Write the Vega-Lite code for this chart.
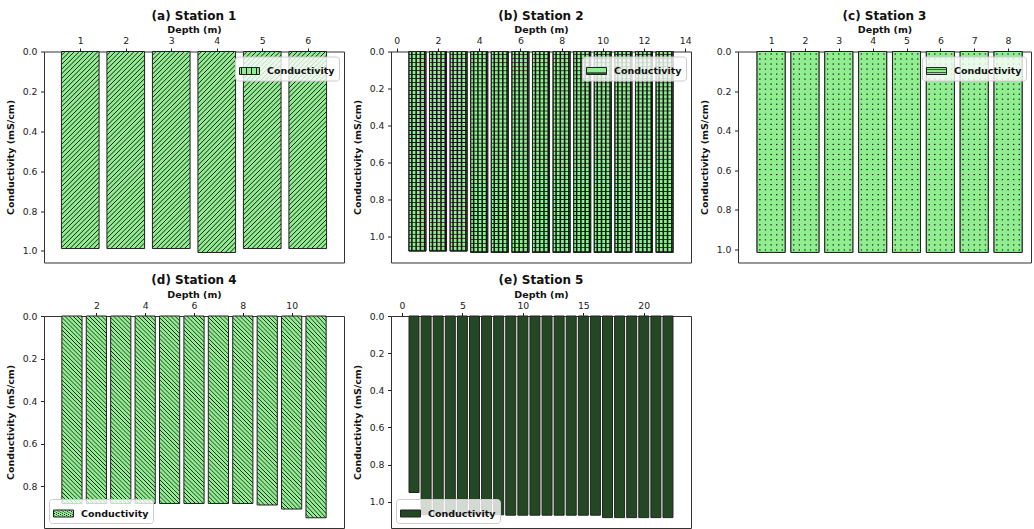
{
"$schema": "https://vega.github.io/schema/vega-lite/v6.json",
"padding": {"left": 4, "top": 8.5, "right": 0, "bottom": 0},
"background": "white",
"datasets": {
"s1": [{"depth":1,"cond":0.988},{"depth":2,"cond":0.988},{"depth":3,"cond":0.988},{"depth":4,"cond":1.008},{"depth":5,"cond":0.988},{"depth":6,"cond":0.988}],
"s2": [{"depth":1,"cond":1.078},{"depth":2,"cond":1.078},{"depth":3,"cond":1.078},{"depth":4,"cond":1.086},{"depth":5,"cond":1.086},{"depth":6,"cond":1.086},{"depth":7,"cond":1.086},{"depth":8,"cond":1.086},{"depth":9,"cond":1.086},{"depth":10,"cond":1.086},{"depth":11,"cond":1.086},{"depth":12,"cond":1.086},{"depth":13,"cond":1.086}],
"s3": [{"depth":1,"cond":1.017},{"depth":2,"cond":1.017},{"depth":3,"cond":1.017},{"depth":4,"cond":1.017},{"depth":5,"cond":1.017},{"depth":6,"cond":1.017},{"depth":7,"cond":1.017},{"depth":8,"cond":1.017}],
"s4": [{"depth":1,"cond":0.88},{"depth":2,"cond":0.88},{"depth":3,"cond":0.88},{"depth":4,"cond":0.88},{"depth":5,"cond":0.88},{"depth":6,"cond":0.88},{"depth":7,"cond":0.88},{"depth":8,"cond":0.88},{"depth":9,"cond":0.887},{"depth":10,"cond":0.906},{"depth":11,"cond":0.947}],
"s5": [{"depth":1,"cond":0.95},{"depth":2,"cond":1.07},{"depth":3,"cond":1.07},{"depth":4,"cond":1.07},{"depth":5,"cond":1.07},{"depth":6,"cond":1.07},{"depth":7,"cond":1.07},{"depth":8,"cond":1.07},{"depth":9,"cond":1.072},{"depth":10,"cond":1.072},{"depth":11,"cond":1.072},{"depth":12,"cond":1.072},{"depth":13,"cond":1.072},{"depth":14,"cond":1.072},{"depth":15,"cond":1.072},{"depth":16,"cond":1.072},{"depth":17,"cond":1.085},{"depth":18,"cond":1.085},{"depth":19,"cond":1.085},{"depth":20,"cond":1.085},{"depth":21,"cond":1.085},{"depth":22,"cond":1.085}]
},
"config": {
"font": "DejaVu Sans",
"view": {"stroke": "#333", "strokeWidth": 1},
"axis": {"grid": false, "domain": false, "tickColor": "#222", "tickSize": 3.5, "labelColor": "#222", "labelFontSize": 9.3, "titleFontSize": 9.5, "titleFontWeight": "bold", "titleColor": "#111"},
"axisX": {"labelPadding": 2.5, "titlePadding": 2, "labelAngle": 0},
"axisY": {"labelPadding": 3.5, "titlePadding": 7},
"title": {"fontSize": 12, "fontWeight": "bold", "color": "#111", "anchor": "middle", "offset": 2},
"legend": {"labelFontSize": 9.5, "labelFontWeight": "bold", "labelColor": "#111", "symbolType": "M-1,-0.35H1V0.35H-1Z", "symbolSize": 400, "symbolStrokeWidth": 1, "strokeColor": "#ccc", "fillColor": "rgba(255,255,255,0.8)", "cornerRadius": 3, "padding": 4, "offset": 5, "labelOffset": 7}
},
"resolve": {"scale": {"stroke": "independent"}, "legend": {"stroke": "independent"}},
"spacing": 9.5,
"vconcat": [
{
"spacing": 47,
"bounds": "flush",
"resolve": {"scale": {"stroke": "independent"}, "legend": {"stroke": "independent"}},
"hconcat": [
{
"title": "(a) Station 1",
"width": 300, "height": 211,
"data": {"name": "s1"},
"mark": {"type": "bar", "width": 37.65, "strokeWidth": 1, "fill": {"gradient": "linear", "x1": 0, "y1": 0, "x2": 0.2195, "y2": 1.149, "stops": [{"offset":0,"color":"#90ee90"},
{"offset":0.012,"color":"#90ee90"},{"offset":0.016,"color":"#111"},{"offset":0.02,"color":"#90ee90"},
{"offset":0.032,"color":"#90ee90"},{"offset":0.036,"color":"#111"},{"offset":0.04,"color":"#90ee90"},
{"offset":0.052,"color":"#90ee90"},{"offset":0.056,"color":"#111"},{"offset":0.06,"color":"#90ee90"},
{"offset":0.072,"color":"#90ee90"},{"offset":0.076,"color":"#111"},{"offset":0.08,"color":"#90ee90"},
{"offset":0.092,"color":"#90ee90"},{"offset":0.096,"color":"#111"},{"offset":0.1,"color":"#90ee90"},
{"offset":0.112,"color":"#90ee90"},{"offset":0.116,"color":"#111"},{"offset":0.12,"color":"#90ee90"},
{"offset":0.132,"color":"#90ee90"},{"offset":0.136,"color":"#111"},{"offset":0.14,"color":"#90ee90"},
{"offset":0.152,"color":"#90ee90"},{"offset":0.156,"color":"#111"},{"offset":0.16,"color":"#90ee90"},
{"offset":0.172,"color":"#90ee90"},{"offset":0.176,"color":"#111"},{"offset":0.18,"color":"#90ee90"},
{"offset":0.192,"color":"#90ee90"},{"offset":0.196,"color":"#111"},{"offset":0.2,"color":"#90ee90"},
{"offset":0.212,"color":"#90ee90"},{"offset":0.216,"color":"#111"},{"offset":0.22,"color":"#90ee90"},
{"offset":0.232,"color":"#90ee90"},{"offset":0.236,"color":"#111"},{"offset":0.24,"color":"#90ee90"},
{"offset":0.252,"color":"#90ee90"},{"offset":0.256,"color":"#111"},{"offset":0.26,"color":"#90ee90"},
{"offset":0.272,"color":"#90ee90"},{"offset":0.276,"color":"#111"},{"offset":0.28,"color":"#90ee90"},
{"offset":0.292,"color":"#90ee90"},{"offset":0.296,"color":"#111"},{"offset":0.3,"color":"#90ee90"},
{"offset":0.312,"color":"#90ee90"},{"offset":0.316,"color":"#111"},{"offset":0.32,"color":"#90ee90"},
{"offset":0.332,"color":"#90ee90"},{"offset":0.336,"color":"#111"},{"offset":0.34,"color":"#90ee90"},
{"offset":0.352,"color":"#90ee90"},{"offset":0.356,"color":"#111"},{"offset":0.36,"color":"#90ee90"},
{"offset":0.372,"color":"#90ee90"},{"offset":0.376,"color":"#111"},{"offset":0.38,"color":"#90ee90"},
{"offset":0.392,"color":"#90ee90"},{"offset":0.396,"color":"#111"},{"offset":0.4,"color":"#90ee90"},
{"offset":0.412,"color":"#90ee90"},{"offset":0.416,"color":"#111"},{"offset":0.42,"color":"#90ee90"},
{"offset":0.432,"color":"#90ee90"},{"offset":0.436,"color":"#111"},{"offset":0.44,"color":"#90ee90"},
{"offset":0.452,"color":"#90ee90"},{"offset":0.456,"color":"#111"},{"offset":0.46,"color":"#90ee90"},
{"offset":0.472,"color":"#90ee90"},{"offset":0.476,"color":"#111"},{"offset":0.48,"color":"#90ee90"},
{"offset":0.492,"color":"#90ee90"},{"offset":0.496,"color":"#111"},{"offset":0.5,"color":"#90ee90"},
{"offset":0.512,"color":"#90ee90"},{"offset":0.516,"color":"#111"},{"offset":0.52,"color":"#90ee90"},
{"offset":0.532,"color":"#90ee90"},{"offset":0.536,"color":"#111"},{"offset":0.54,"color":"#90ee90"},
{"offset":0.552,"color":"#90ee90"},{"offset":0.556,"color":"#111"},{"offset":0.56,"color":"#90ee90"},
{"offset":0.572,"color":"#90ee90"},{"offset":0.576,"color":"#111"},{"offset":0.58,"color":"#90ee90"},
{"offset":0.592,"color":"#90ee90"},{"offset":0.596,"color":"#111"},{"offset":0.6,"color":"#90ee90"},
{"offset":0.612,"color":"#90ee90"},{"offset":0.616,"color":"#111"},{"offset":0.62,"color":"#90ee90"},
{"offset":0.632,"color":"#90ee90"},{"offset":0.636,"color":"#111"},{"offset":0.64,"color":"#90ee90"},
{"offset":0.652,"color":"#90ee90"},{"offset":0.656,"color":"#111"},{"offset":0.66,"color":"#90ee90"},
{"offset":0.672,"color":"#90ee90"},{"offset":0.676,"color":"#111"},{"offset":0.68,"color":"#90ee90"},
{"offset":0.692,"color":"#90ee90"},{"offset":0.696,"color":"#111"},{"offset":0.7,"color":"#90ee90"},
{"offset":0.712,"color":"#90ee90"},{"offset":0.716,"color":"#111"},{"offset":0.72,"color":"#90ee90"},
{"offset":0.732,"color":"#90ee90"},{"offset":0.736,"color":"#111"},{"offset":0.74,"color":"#90ee90"},
{"offset":0.752,"color":"#90ee90"},{"offset":0.756,"color":"#111"},{"offset":0.76,"color":"#90ee90"},
{"offset":0.772,"color":"#90ee90"},{"offset":0.776,"color":"#111"},{"offset":0.78,"color":"#90ee90"},
{"offset":0.792,"color":"#90ee90"},{"offset":0.796,"color":"#111"},{"offset":0.8,"color":"#90ee90"},
{"offset":0.812,"color":"#90ee90"},{"offset":0.816,"color":"#111"},{"offset":0.82,"color":"#90ee90"},
{"offset":0.832,"color":"#90ee90"},{"offset":0.836,"color":"#111"},{"offset":0.84,"color":"#90ee90"},
{"offset":0.852,"color":"#90ee90"},{"offset":0.856,"color":"#111"},{"offset":0.86,"color":"#90ee90"},
{"offset":0.872,"color":"#90ee90"},{"offset":0.876,"color":"#111"},{"offset":0.88,"color":"#90ee90"},
{"offset":0.892,"color":"#90ee90"},{"offset":0.896,"color":"#111"},{"offset":0.9,"color":"#90ee90"},
{"offset":0.912,"color":"#90ee90"},{"offset":0.916,"color":"#111"},{"offset":0.92,"color":"#90ee90"},
{"offset":0.932,"color":"#90ee90"},{"offset":0.936,"color":"#111"},{"offset":0.94,"color":"#90ee90"},
{"offset":0.952,"color":"#90ee90"},{"offset":0.956,"color":"#111"},{"offset":0.96,"color":"#90ee90"},
{"offset":0.972,"color":"#90ee90"},{"offset":0.976,"color":"#111"},{"offset":0.98,"color":"#90ee90"},
{"offset":0.992,"color":"#90ee90"},{"offset":0.996,"color":"#111"},{"offset":1,"color":"#90ee90"}]}},
"encoding": {
"x": {"field": "depth", "type": "quantitative", "scale": {"domain": [0.313, 6.687], "nice": false, "zero": false}, "axis": {"orient": "top", "title": "Depth (m)", "values": [1,2,3,4,5,6], "format": "d"}},
"y": {"field": "cond", "type": "quantitative", "scale": {"domain": [0, 1.058], "reverse": true, "nice": false}, "axis": {"title": "Conductivity (mS/cm)", "values": [0,0.2,0.4,0.6,0.8,1.0], "format": ".1f"}},
"stroke": {"datum": "Conductivity", "type": "nominal", "scale": {"range": ["#222"]}, "legend": {"orient": "top-right", "title": null}}
}
},
{
"title": "(b) Station 2",
"width": 300, "height": 211,
"data": {"name": "s2"},
"encoding": {
"x": {"field": "depth", "type": "quantitative", "scale": {"domain": [-0.04, 14.04], "nice": false, "zero": false}, "axis": {"orient": "top", "title": "Depth (m)", "values": [0,2,4,6,8,10,12,14], "format": "d"}},
"y": {"field": "cond", "type": "quantitative", "scale": {"domain": [0, 1.14], "reverse": true, "nice": false}, "axis": {"title": "Conductivity (mS/cm)", "values": [0,0.2,0.4,0.6,0.8,1.0], "format": ".1f"}},
"stroke": {"datum": "Conductivity", "type": "nominal", "scale": {"range": ["#222"]}, "legend": {"orient": "top-right", "title": null}}
},
"layer": [
{"mark": {"type": "bar", "width": 17.05, "strokeWidth": 1, "fill": {"gradient": "linear", "x1": 0, "y1": 0, "x2": 0, "y2": 1, "stops": [{"offset":0,"color":"#90ee90"},
{"offset":0.012,"color":"#90ee90"},{"offset":0.016,"color":"#111"},{"offset":0.02,"color":"#90ee90"},
{"offset":0.032,"color":"#90ee90"},{"offset":0.036,"color":"#111"},{"offset":0.04,"color":"#90ee90"},
{"offset":0.052,"color":"#90ee90"},{"offset":0.056,"color":"#111"},{"offset":0.06,"color":"#90ee90"},
{"offset":0.072,"color":"#90ee90"},{"offset":0.076,"color":"#111"},{"offset":0.08,"color":"#90ee90"},
{"offset":0.092,"color":"#90ee90"},{"offset":0.096,"color":"#111"},{"offset":0.1,"color":"#90ee90"},
{"offset":0.112,"color":"#90ee90"},{"offset":0.116,"color":"#111"},{"offset":0.12,"color":"#90ee90"},
{"offset":0.132,"color":"#90ee90"},{"offset":0.136,"color":"#111"},{"offset":0.14,"color":"#90ee90"},
{"offset":0.152,"color":"#90ee90"},{"offset":0.156,"color":"#111"},{"offset":0.16,"color":"#90ee90"},
{"offset":0.172,"color":"#90ee90"},{"offset":0.176,"color":"#111"},{"offset":0.18,"color":"#90ee90"},
{"offset":0.192,"color":"#90ee90"},{"offset":0.196,"color":"#111"},{"offset":0.2,"color":"#90ee90"},
{"offset":0.212,"color":"#90ee90"},{"offset":0.216,"color":"#111"},{"offset":0.22,"color":"#90ee90"},
{"offset":0.232,"color":"#90ee90"},{"offset":0.236,"color":"#111"},{"offset":0.24,"color":"#90ee90"},
{"offset":0.252,"color":"#90ee90"},{"offset":0.256,"color":"#111"},{"offset":0.26,"color":"#90ee90"},
{"offset":0.272,"color":"#90ee90"},{"offset":0.276,"color":"#111"},{"offset":0.28,"color":"#90ee90"},
{"offset":0.292,"color":"#90ee90"},{"offset":0.296,"color":"#111"},{"offset":0.3,"color":"#90ee90"},
{"offset":0.312,"color":"#90ee90"},{"offset":0.316,"color":"#111"},{"offset":0.32,"color":"#90ee90"},
{"offset":0.332,"color":"#90ee90"},{"offset":0.336,"color":"#111"},{"offset":0.34,"color":"#90ee90"},
{"offset":0.352,"color":"#90ee90"},{"offset":0.356,"color":"#111"},{"offset":0.36,"color":"#90ee90"},
{"offset":0.372,"color":"#90ee90"},{"offset":0.376,"color":"#111"},{"offset":0.38,"color":"#90ee90"},
{"offset":0.392,"color":"#90ee90"},{"offset":0.396,"color":"#111"},{"offset":0.4,"color":"#90ee90"},
{"offset":0.412,"color":"#90ee90"},{"offset":0.416,"color":"#111"},{"offset":0.42,"color":"#90ee90"},
{"offset":0.432,"color":"#90ee90"},{"offset":0.436,"color":"#111"},{"offset":0.44,"color":"#90ee90"},
{"offset":0.452,"color":"#90ee90"},{"offset":0.456,"color":"#111"},{"offset":0.46,"color":"#90ee90"},
{"offset":0.472,"color":"#90ee90"},{"offset":0.476,"color":"#111"},{"offset":0.48,"color":"#90ee90"},
{"offset":0.492,"color":"#90ee90"},{"offset":0.496,"color":"#111"},{"offset":0.5,"color":"#90ee90"},
{"offset":0.512,"color":"#90ee90"},{"offset":0.516,"color":"#111"},{"offset":0.52,"color":"#90ee90"},
{"offset":0.532,"color":"#90ee90"},{"offset":0.536,"color":"#111"},{"offset":0.54,"color":"#90ee90"},
{"offset":0.552,"color":"#90ee90"},{"offset":0.556,"color":"#111"},{"offset":0.56,"color":"#90ee90"},
{"offset":0.572,"color":"#90ee90"},{"offset":0.576,"color":"#111"},{"offset":0.58,"color":"#90ee90"},
{"offset":0.592,"color":"#90ee90"},{"offset":0.596,"color":"#111"},{"offset":0.6,"color":"#90ee90"},
{"offset":0.612,"color":"#90ee90"},{"offset":0.616,"color":"#111"},{"offset":0.62,"color":"#90ee90"},
{"offset":0.632,"color":"#90ee90"},{"offset":0.636,"color":"#111"},{"offset":0.64,"color":"#90ee90"},
{"offset":0.652,"color":"#90ee90"},{"offset":0.656,"color":"#111"},{"offset":0.66,"color":"#90ee90"},
{"offset":0.672,"color":"#90ee90"},{"offset":0.676,"color":"#111"},{"offset":0.68,"color":"#90ee90"},
{"offset":0.692,"color":"#90ee90"},{"offset":0.696,"color":"#111"},{"offset":0.7,"color":"#90ee90"},
{"offset":0.712,"color":"#90ee90"},{"offset":0.716,"color":"#111"},{"offset":0.72,"color":"#90ee90"},
{"offset":0.732,"color":"#90ee90"},{"offset":0.736,"color":"#111"},{"offset":0.74,"color":"#90ee90"},
{"offset":0.752,"color":"#90ee90"},{"offset":0.756,"color":"#111"},{"offset":0.76,"color":"#90ee90"},
{"offset":0.772,"color":"#90ee90"},{"offset":0.776,"color":"#111"},{"offset":0.78,"color":"#90ee90"},
{"offset":0.792,"color":"#90ee90"},{"offset":0.796,"color":"#111"},{"offset":0.8,"color":"#90ee90"},
{"offset":0.812,"color":"#90ee90"},{"offset":0.816,"color":"#111"},{"offset":0.82,"color":"#90ee90"},
{"offset":0.832,"color":"#90ee90"},{"offset":0.836,"color":"#111"},{"offset":0.84,"color":"#90ee90"},
{"offset":0.852,"color":"#90ee90"},{"offset":0.856,"color":"#111"},{"offset":0.86,"color":"#90ee90"},
{"offset":0.872,"color":"#90ee90"},{"offset":0.876,"color":"#111"},{"offset":0.88,"color":"#90ee90"},
{"offset":0.892,"color":"#90ee90"},{"offset":0.896,"color":"#111"},{"offset":0.9,"color":"#90ee90"},
{"offset":0.912,"color":"#90ee90"},{"offset":0.916,"color":"#111"},{"offset":0.92,"color":"#90ee90"},
{"offset":0.932,"color":"#90ee90"},{"offset":0.936,"color":"#111"},{"offset":0.94,"color":"#90ee90"},
{"offset":0.952,"color":"#90ee90"},{"offset":0.956,"color":"#111"},{"offset":0.96,"color":"#90ee90"},
{"offset":0.972,"color":"#90ee90"},{"offset":0.976,"color":"#111"},{"offset":0.98,"color":"#90ee90"},
{"offset":0.992,"color":"#90ee90"},{"offset":0.996,"color":"#111"},{"offset":1,"color":"#90ee90"}]}}},
{"mark": {"type": "bar", "width": 17.05, "strokeWidth": 1, "fill": {"gradient": "linear", "x1": 0, "y1": 0, "x2": 1, "y2": 0, "stops": [{"offset":0,"color":"rgba(17,17,17,0)"},
{"offset":0.1,"color":"rgba(17,17,17,0)"},{"offset":0.16,"color":"#111"},{"offset":0.19,"color":"#111"},{"offset":0.25,"color":"rgba(17,17,17,0)"},
{"offset":0.35,"color":"rgba(17,17,17,0)"},{"offset":0.41,"color":"#111"},{"offset":0.44,"color":"#111"},{"offset":0.5,"color":"rgba(17,17,17,0)"},
{"offset":0.6,"color":"rgba(17,17,17,0)"},{"offset":0.66,"color":"#111"},{"offset":0.69,"color":"#111"},{"offset":0.75,"color":"rgba(17,17,17,0)"},
{"offset":0.85,"color":"rgba(17,17,17,0)"},{"offset":0.91,"color":"#111"},{"offset":0.94,"color":"#111"},{"offset":1,"color":"rgba(17,17,17,0)"}]}}}
]
},
{
"title": "(c) Station 3",
"width": 293, "height": 211,
"data": {"name": "s3"},
"encoding": {
"x": {"field": "depth", "type": "quantitative", "scale": {"domain": [0.17, 8.53], "nice": false, "zero": false}, "axis": {"orient": "top", "title": "Depth (m)", "values": [1,2,3,4,5,6,7,8], "format": "d"}},
"y": {"field": "cond", "type": "quantitative", "scale": {"domain": [0, 1.068], "reverse": true, "nice": false}, "axis": {"title": "Conductivity (mS/cm)", "values": [0,0.2,0.4,0.6,0.8,1.0], "format": ".1f"}},
"stroke": {"datum": "Conductivity", "type": "nominal", "scale": {"range": ["#222"]}, "legend": {"orient": "top-right", "title": null}}
},
"layer": [
{"mark": {"type": "bar", "width": 28.04, "strokeWidth": 1, "fill": {"gradient": "linear", "x1": 0, "y1": 0, "x2": 0, "y2": 1, "stops": [{"offset":0,"color":"#90ee90"},
{"offset":0.007,"color":"#90ee90"},{"offset":0.0125,"color":"#111"},{"offset":0.018,"color":"#90ee90"},
{"offset":0.032,"color":"#90ee90"},{"offset":0.0375,"color":"#111"},{"offset":0.043,"color":"#90ee90"},
{"offset":0.057,"color":"#90ee90"},{"offset":0.0625,"color":"#111"},{"offset":0.068,"color":"#90ee90"},
{"offset":0.082,"color":"#90ee90"},{"offset":0.0875,"color":"#111"},{"offset":0.093,"color":"#90ee90"},
{"offset":0.107,"color":"#90ee90"},{"offset":0.1125,"color":"#111"},{"offset":0.118,"color":"#90ee90"},
{"offset":0.132,"color":"#90ee90"},{"offset":0.1375,"color":"#111"},{"offset":0.143,"color":"#90ee90"},
{"offset":0.157,"color":"#90ee90"},{"offset":0.1625,"color":"#111"},{"offset":0.168,"color":"#90ee90"},
{"offset":0.182,"color":"#90ee90"},{"offset":0.1875,"color":"#111"},{"offset":0.193,"color":"#90ee90"},
{"offset":0.207,"color":"#90ee90"},{"offset":0.2125,"color":"#111"},{"offset":0.218,"color":"#90ee90"},
{"offset":0.232,"color":"#90ee90"},{"offset":0.2375,"color":"#111"},{"offset":0.243,"color":"#90ee90"},
{"offset":0.257,"color":"#90ee90"},{"offset":0.2625,"color":"#111"},{"offset":0.268,"color":"#90ee90"},
{"offset":0.282,"color":"#90ee90"},{"offset":0.2875,"color":"#111"},{"offset":0.293,"color":"#90ee90"},
{"offset":0.307,"color":"#90ee90"},{"offset":0.3125,"color":"#111"},{"offset":0.318,"color":"#90ee90"},
{"offset":0.332,"color":"#90ee90"},{"offset":0.3375,"color":"#111"},{"offset":0.343,"color":"#90ee90"},
{"offset":0.357,"color":"#90ee90"},{"offset":0.3625,"color":"#111"},{"offset":0.368,"color":"#90ee90"},
{"offset":0.382,"color":"#90ee90"},{"offset":0.3875,"color":"#111"},{"offset":0.393,"color":"#90ee90"},
{"offset":0.407,"color":"#90ee90"},{"offset":0.4125,"color":"#111"},{"offset":0.418,"color":"#90ee90"},
{"offset":0.432,"color":"#90ee90"},{"offset":0.4375,"color":"#111"},{"offset":0.443,"color":"#90ee90"},
{"offset":0.457,"color":"#90ee90"},{"offset":0.4625,"color":"#111"},{"offset":0.468,"color":"#90ee90"},
{"offset":0.482,"color":"#90ee90"},{"offset":0.4875,"color":"#111"},{"offset":0.493,"color":"#90ee90"},
{"offset":0.507,"color":"#90ee90"},{"offset":0.5125,"color":"#111"},{"offset":0.518,"color":"#90ee90"},
{"offset":0.532,"color":"#90ee90"},{"offset":0.5375,"color":"#111"},{"offset":0.543,"color":"#90ee90"},
{"offset":0.557,"color":"#90ee90"},{"offset":0.5625,"color":"#111"},{"offset":0.568,"color":"#90ee90"},
{"offset":0.582,"color":"#90ee90"},{"offset":0.5875,"color":"#111"},{"offset":0.593,"color":"#90ee90"},
{"offset":0.607,"color":"#90ee90"},{"offset":0.6125,"color":"#111"},{"offset":0.618,"color":"#90ee90"},
{"offset":0.632,"color":"#90ee90"},{"offset":0.6375,"color":"#111"},{"offset":0.643,"color":"#90ee90"},
{"offset":0.657,"color":"#90ee90"},{"offset":0.6625,"color":"#111"},{"offset":0.668,"color":"#90ee90"},
{"offset":0.682,"color":"#90ee90"},{"offset":0.6875,"color":"#111"},{"offset":0.693,"color":"#90ee90"},
{"offset":0.707,"color":"#90ee90"},{"offset":0.7125,"color":"#111"},{"offset":0.718,"color":"#90ee90"},
{"offset":0.732,"color":"#90ee90"},{"offset":0.7375,"color":"#111"},{"offset":0.743,"color":"#90ee90"},
{"offset":0.757,"color":"#90ee90"},{"offset":0.7625,"color":"#111"},{"offset":0.768,"color":"#90ee90"},
{"offset":0.782,"color":"#90ee90"},{"offset":0.7875,"color":"#111"},{"offset":0.793,"color":"#90ee90"},
{"offset":0.807,"color":"#90ee90"},{"offset":0.8125,"color":"#111"},{"offset":0.818,"color":"#90ee90"},
{"offset":0.832,"color":"#90ee90"},{"offset":0.8375,"color":"#111"},{"offset":0.843,"color":"#90ee90"},
{"offset":0.857,"color":"#90ee90"},{"offset":0.8625,"color":"#111"},{"offset":0.868,"color":"#90ee90"},
{"offset":0.882,"color":"#90ee90"},{"offset":0.8875,"color":"#111"},{"offset":0.893,"color":"#90ee90"},
{"offset":0.907,"color":"#90ee90"},{"offset":0.9125,"color":"#111"},{"offset":0.918,"color":"#90ee90"},
{"offset":0.932,"color":"#90ee90"},{"offset":0.9375,"color":"#111"},{"offset":0.943,"color":"#90ee90"},
{"offset":0.957,"color":"#90ee90"},{"offset":0.9625,"color":"#111"},{"offset":0.968,"color":"#90ee90"},
{"offset":0.982,"color":"#90ee90"},{"offset":0.9875,"color":"#111"},{"offset":0.993,"color":"#90ee90"},
{"offset":1,"color":"#90ee90"}]}}},
{"mark": {"type": "bar", "width": 28.04, "strokeWidth": 1, "fill": {"gradient": "linear", "x1": 0, "y1": 0, "x2": 1, "y2": 0, "stops": [{"offset":0,"color":"#90ee90"},
{"offset":0.06,"color":"#90ee90"},{"offset":0.09,"color":"rgba(144,238,144,0)"},{"offset":0.11,"color":"rgba(144,238,144,0)"},{"offset":0.14,"color":"#90ee90"},
{"offset":0.26,"color":"#90ee90"},{"offset":0.29,"color":"rgba(144,238,144,0)"},{"offset":0.31,"color":"rgba(144,238,144,0)"},{"offset":0.34,"color":"#90ee90"},
{"offset":0.46,"color":"#90ee90"},{"offset":0.49,"color":"rgba(144,238,144,0)"},{"offset":0.51,"color":"rgba(144,238,144,0)"},{"offset":0.54,"color":"#90ee90"},
{"offset":0.66,"color":"#90ee90"},{"offset":0.69,"color":"rgba(144,238,144,0)"},{"offset":0.71,"color":"rgba(144,238,144,0)"},{"offset":0.74,"color":"#90ee90"},
{"offset":0.86,"color":"#90ee90"},{"offset":0.89,"color":"rgba(144,238,144,0)"},{"offset":0.91,"color":"rgba(144,238,144,0)"},{"offset":0.94,"color":"#90ee90"},
{"offset":1,"color":"#90ee90"}]}}}
]
}
]
},
{
"spacing": 47,
"bounds": "flush",
"resolve": {"scale": {"stroke": "independent"}, "legend": {"stroke": "independent"}},
"hconcat": [
{
"title": "(d) Station 4",
"width": 300, "height": 212,
"data": {"name": "s4"},
"mark": {"type": "bar", "width": 20.2, "strokeWidth": 1, "fill": {"gradient": "linear", "x1": 0, "y1": 1, "x2": 0.118, "y2": -0.095, "stops": [{"offset":0,"color":"#90ee90"},
{"offset":0.012,"color":"#90ee90"},{"offset":0.016,"color":"#111"},{"offset":0.02,"color":"#90ee90"},
{"offset":0.032,"color":"#90ee90"},{"offset":0.036,"color":"#111"},{"offset":0.04,"color":"#90ee90"},
{"offset":0.052,"color":"#90ee90"},{"offset":0.056,"color":"#111"},{"offset":0.06,"color":"#90ee90"},
{"offset":0.072,"color":"#90ee90"},{"offset":0.076,"color":"#111"},{"offset":0.08,"color":"#90ee90"},
{"offset":0.092,"color":"#90ee90"},{"offset":0.096,"color":"#111"},{"offset":0.1,"color":"#90ee90"},
{"offset":0.112,"color":"#90ee90"},{"offset":0.116,"color":"#111"},{"offset":0.12,"color":"#90ee90"},
{"offset":0.132,"color":"#90ee90"},{"offset":0.136,"color":"#111"},{"offset":0.14,"color":"#90ee90"},
{"offset":0.152,"color":"#90ee90"},{"offset":0.156,"color":"#111"},{"offset":0.16,"color":"#90ee90"},
{"offset":0.172,"color":"#90ee90"},{"offset":0.176,"color":"#111"},{"offset":0.18,"color":"#90ee90"},
{"offset":0.192,"color":"#90ee90"},{"offset":0.196,"color":"#111"},{"offset":0.2,"color":"#90ee90"},
{"offset":0.212,"color":"#90ee90"},{"offset":0.216,"color":"#111"},{"offset":0.22,"color":"#90ee90"},
{"offset":0.232,"color":"#90ee90"},{"offset":0.236,"color":"#111"},{"offset":0.24,"color":"#90ee90"},
{"offset":0.252,"color":"#90ee90"},{"offset":0.256,"color":"#111"},{"offset":0.26,"color":"#90ee90"},
{"offset":0.272,"color":"#90ee90"},{"offset":0.276,"color":"#111"},{"offset":0.28,"color":"#90ee90"},
{"offset":0.292,"color":"#90ee90"},{"offset":0.296,"color":"#111"},{"offset":0.3,"color":"#90ee90"},
{"offset":0.312,"color":"#90ee90"},{"offset":0.316,"color":"#111"},{"offset":0.32,"color":"#90ee90"},
{"offset":0.332,"color":"#90ee90"},{"offset":0.336,"color":"#111"},{"offset":0.34,"color":"#90ee90"},
{"offset":0.352,"color":"#90ee90"},{"offset":0.356,"color":"#111"},{"offset":0.36,"color":"#90ee90"},
{"offset":0.372,"color":"#90ee90"},{"offset":0.376,"color":"#111"},{"offset":0.38,"color":"#90ee90"},
{"offset":0.392,"color":"#90ee90"},{"offset":0.396,"color":"#111"},{"offset":0.4,"color":"#90ee90"},
{"offset":0.412,"color":"#90ee90"},{"offset":0.416,"color":"#111"},{"offset":0.42,"color":"#90ee90"},
{"offset":0.432,"color":"#90ee90"},{"offset":0.436,"color":"#111"},{"offset":0.44,"color":"#90ee90"},
{"offset":0.452,"color":"#90ee90"},{"offset":0.456,"color":"#111"},{"offset":0.46,"color":"#90ee90"},
{"offset":0.472,"color":"#90ee90"},{"offset":0.476,"color":"#111"},{"offset":0.48,"color":"#90ee90"},
{"offset":0.492,"color":"#90ee90"},{"offset":0.496,"color":"#111"},{"offset":0.5,"color":"#90ee90"},
{"offset":0.512,"color":"#90ee90"},{"offset":0.516,"color":"#111"},{"offset":0.52,"color":"#90ee90"},
{"offset":0.532,"color":"#90ee90"},{"offset":0.536,"color":"#111"},{"offset":0.54,"color":"#90ee90"},
{"offset":0.552,"color":"#90ee90"},{"offset":0.556,"color":"#111"},{"offset":0.56,"color":"#90ee90"},
{"offset":0.572,"color":"#90ee90"},{"offset":0.576,"color":"#111"},{"offset":0.58,"color":"#90ee90"},
{"offset":0.592,"color":"#90ee90"},{"offset":0.596,"color":"#111"},{"offset":0.6,"color":"#90ee90"},
{"offset":0.612,"color":"#90ee90"},{"offset":0.616,"color":"#111"},{"offset":0.62,"color":"#90ee90"},
{"offset":0.632,"color":"#90ee90"},{"offset":0.636,"color":"#111"},{"offset":0.64,"color":"#90ee90"},
{"offset":0.652,"color":"#90ee90"},{"offset":0.656,"color":"#111"},{"offset":0.66,"color":"#90ee90"},
{"offset":0.672,"color":"#90ee90"},{"offset":0.676,"color":"#111"},{"offset":0.68,"color":"#90ee90"},
{"offset":0.692,"color":"#90ee90"},{"offset":0.696,"color":"#111"},{"offset":0.7,"color":"#90ee90"},
{"offset":0.712,"color":"#90ee90"},{"offset":0.716,"color":"#111"},{"offset":0.72,"color":"#90ee90"},
{"offset":0.732,"color":"#90ee90"},{"offset":0.736,"color":"#111"},{"offset":0.74,"color":"#90ee90"},
{"offset":0.752,"color":"#90ee90"},{"offset":0.756,"color":"#111"},{"offset":0.76,"color":"#90ee90"},
{"offset":0.772,"color":"#90ee90"},{"offset":0.776,"color":"#111"},{"offset":0.78,"color":"#90ee90"},
{"offset":0.792,"color":"#90ee90"},{"offset":0.796,"color":"#111"},{"offset":0.8,"color":"#90ee90"},
{"offset":0.812,"color":"#90ee90"},{"offset":0.816,"color":"#111"},{"offset":0.82,"color":"#90ee90"},
{"offset":0.832,"color":"#90ee90"},{"offset":0.836,"color":"#111"},{"offset":0.84,"color":"#90ee90"},
{"offset":0.852,"color":"#90ee90"},{"offset":0.856,"color":"#111"},{"offset":0.86,"color":"#90ee90"},
{"offset":0.872,"color":"#90ee90"},{"offset":0.876,"color":"#111"},{"offset":0.88,"color":"#90ee90"},
{"offset":0.892,"color":"#90ee90"},{"offset":0.896,"color":"#111"},{"offset":0.9,"color":"#90ee90"},
{"offset":0.912,"color":"#90ee90"},{"offset":0.916,"color":"#111"},{"offset":0.92,"color":"#90ee90"},
{"offset":0.932,"color":"#90ee90"},{"offset":0.936,"color":"#111"},{"offset":0.94,"color":"#90ee90"},
{"offset":0.952,"color":"#90ee90"},{"offset":0.956,"color":"#111"},{"offset":0.96,"color":"#90ee90"},
{"offset":0.972,"color":"#90ee90"},{"offset":0.976,"color":"#111"},{"offset":0.98,"color":"#90ee90"},
{"offset":0.992,"color":"#90ee90"},{"offset":0.996,"color":"#111"},{"offset":1,"color":"#90ee90"}]}},
"encoding": {
"x": {"field": "depth", "type": "quantitative", "scale": {"domain": [0.06, 11.94], "nice": false, "zero": false}, "axis": {"orient": "top", "title": "Depth (m)", "values": [2,4,6,8,10], "format": "d"}},
"y": {"field": "cond", "type": "quantitative", "scale": {"domain": [0, 0.995], "reverse": true, "nice": false}, "axis": {"title": "Conductivity (mS/cm)", "values": [0,0.2,0.4,0.6,0.8], "format": ".1f"}},
"stroke": {"datum": "Conductivity", "type": "nominal", "scale": {"range": ["#222"]}, "legend": {"orient": "bottom-left", "title": null}}
}
},
{
"title": "(e) Station 5",
"width": 300, "height": 212,
"data": {"name": "s5"},
"mark": {"type": "bar", "width": 10, "strokeWidth": 1, "fill": "#234823"},
"encoding": {
"x": {"field": "depth", "type": "quantitative", "scale": {"domain": [-0.49, 23.49], "nice": false, "zero": false}, "axis": {"orient": "top", "title": "Depth (m)", "values": [0,5,10,15,20], "format": "d"}},
"y": {"field": "cond", "type": "quantitative", "scale": {"domain": [0, 1.141], "reverse": true, "nice": false}, "axis": {"title": "Conductivity (mS/cm)", "values": [0,0.2,0.4,0.6,0.8,1.0], "format": ".1f"}},
"stroke": {"datum": "Conductivity", "type": "nominal", "scale": {"range": ["#222"]}, "legend": {"orient": "bottom-left", "title": null}}
}
}
]
}
]
}
